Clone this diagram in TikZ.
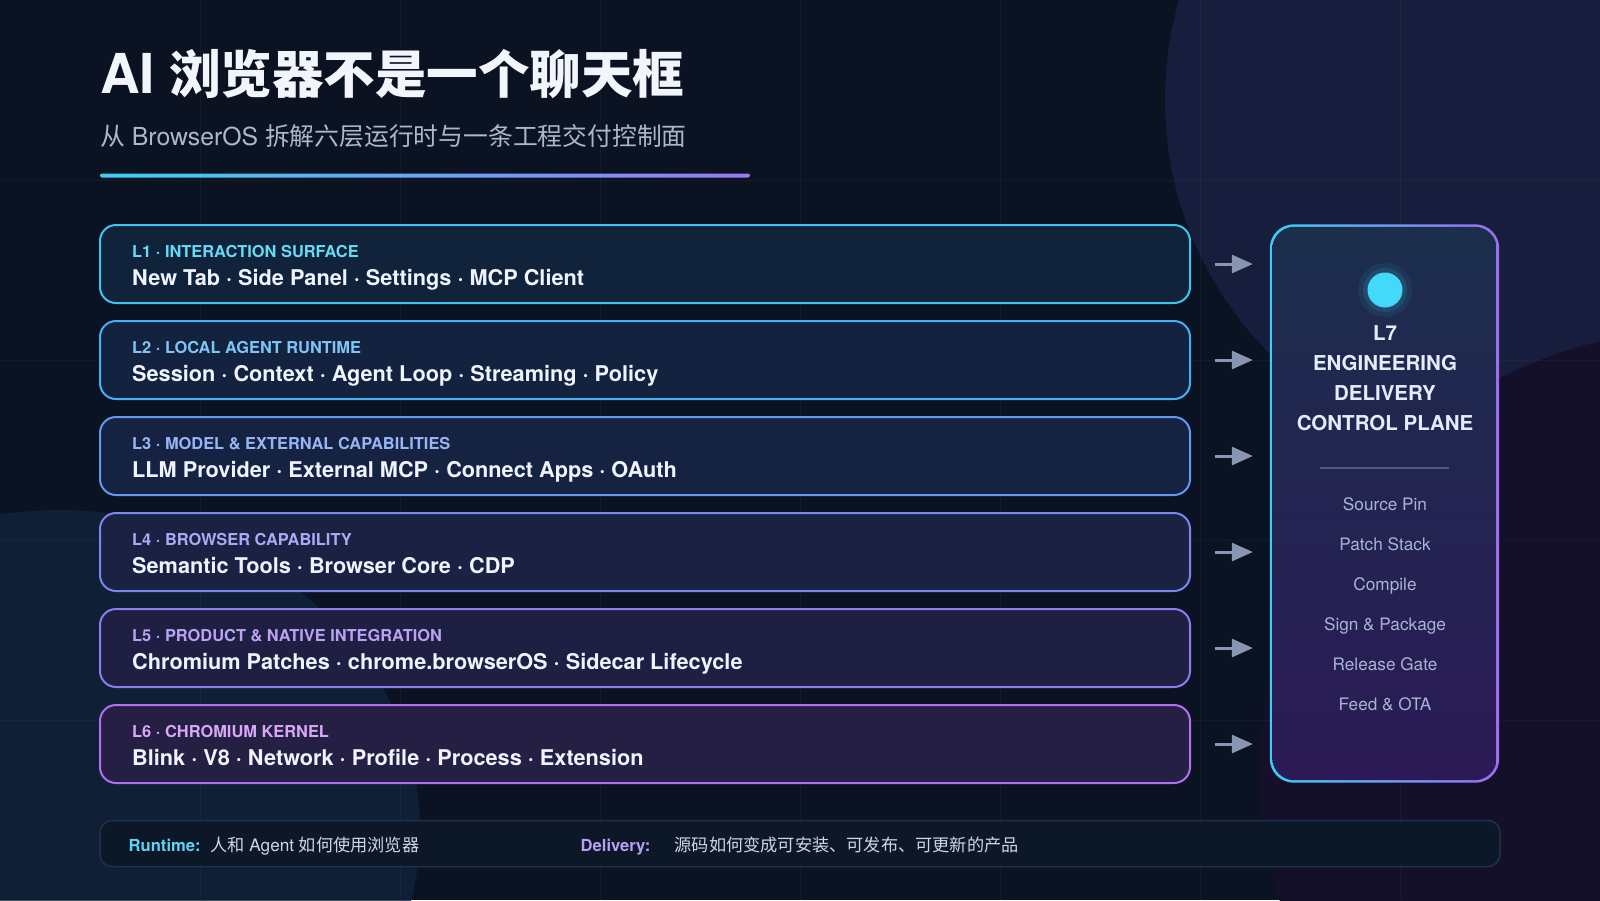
\documentclass[tikz,border=0pt]{standalone}
\usepackage{fontspec}
\setmainfont{TeX Gyre Heros}
\newfontfamily\cjk{Noto Sans CJK SC}[BoldFont={Noto Sans CJK SC Bold}]
\newfontfamily\cjkheavy{Noto Sans CJK SC Black}
\usepackage{xcolor}
\usepackage{tikz}
\usetikzlibrary{arrows.meta,calc,positioning}

% palette
\definecolor{bgbase}{HTML}{0B1222}
\definecolor{bgdisc}{HTML}{171D3D}
\definecolor{bgglow}{HTML}{10233A}
\definecolor{bgplum}{HTML}{15102A}
\definecolor{titlewhite}{HTML}{F2F6FC}
\definecolor{subgray}{HTML}{AEB7C7}
\definecolor{rulecyan}{HTML}{3AD0F2}
\definecolor{rulepurple}{HTML}{9A7AF4}
\definecolor{txtmain}{HTML}{EEF3FD}
\definecolor{arrowgray}{HTML}{8797B1}
\definecolor{l1line}{HTML}{3EC4EF}\definecolor{l1tag}{HTML}{67DAF4}\definecolor{l1fill}{HTML}{11223B}
\definecolor{l2line}{HTML}{4AAFF2}\definecolor{l2tag}{HTML}{7FC6F6}\definecolor{l2fill}{HTML}{13233F}
\definecolor{l3line}{HTML}{6198F0}\definecolor{l3tag}{HTML}{98B6F5}\definecolor{l3fill}{HTML}{162241}
\definecolor{l4line}{HTML}{7B87EE}\definecolor{l4tag}{HTML}{ABAAF4}\definecolor{l4fill}{HTML}{1A2142}
\definecolor{l5line}{HTML}{907AEE}\definecolor{l5tag}{HTML}{BBA3F4}\definecolor{l5fill}{HTML}{1E1F42}
\definecolor{l6line}{HTML}{B26FF0}\definecolor{l6tag}{HTML}{D8A8F6}\definecolor{l6fill}{HTML}{251F43}
\definecolor{panelcyan}{HTML}{3ECDF5}
\definecolor{panelpurple}{HTML}{9C6DF0}
\definecolor{paneltop}{HTML}{1B2E4C}
\definecolor{panelmid}{HTML}{212650}
\definecolor{panelbot}{HTML}{2B1A56}
\definecolor{dotcyan}{HTML}{43D9F8}
\definecolor{paneltxt}{HTML}{E4ECFB}
\definecolor{listgray}{HTML}{A8B5D2}
\definecolor{sepline}{HTML}{4A5A80}
\definecolor{barfill}{HTML}{0C1727}
\definecolor{barline}{HTML}{22304A}
\definecolor{barcyan}{HTML}{5FD3F2}
\definecolor{barpurple}{HTML}{B9A0F5}
\definecolor{bartxt}{HTML}{CFD6E2}

\begin{document}
\begin{tikzpicture}[x=1pt,y=-1pt,
    layer/.style={draw, line width=2pt, rounded corners=16pt, minimum width=1090pt, minimum height=78pt, inner sep=0pt},
    tag/.style={anchor=base west, inner sep=0pt, font=\bfseries\fontsize{16.4}{19}\selectfont},
    items/.style={anchor=base west, inner sep=0pt, text=txtmain, font=\bfseries\fontsize{21.7}{25}\selectfont},
    flow/.style={draw=arrowgray, line width=3pt, -{Triangle[length=21pt,width=18pt]}},
    stage/.style={anchor=base, inner sep=0pt, text=listgray, font=\fontsize{17.2}{20}\selectfont},
    gridline/.style={white, opacity=0.035, line width=1pt}]

    % BACKGROUND
    \fill[bgbase] (0,0) rectangle (1600,900);
    \useasboundingbox (0,0) rectangle (1600,900);
    \fill[bgdisc] (1525,100) circle (360pt);
    \fill[bgplum] (1700,770) circle (440pt);
    \fill[bgglow, opacity=0.8] (60,830) ellipse (360pt and 320pt);
    \foreach \gx in {200,400,...,1400} \draw[gridline] (\gx,0) -- (\gx,900);
    \foreach \gy in {180,360,540,720} \draw[gridline] (0,\gy) -- (1600,\gy);

    % HEADER
    \node[anchor=base west, inner sep=0pt, text=titlewhite] (title) at (100,93)
        {{\bfseries\fontsize{55}{60}\selectfont AI}\hspace{14pt}{\cjkheavy\fontsize{51.5}{60}\selectfont 浏览器不是一个聊天框}};
    \node[anchor=base west, inner sep=0pt, text=subgray, font=\fontsize{24.8}{30}\selectfont] (subtitle) at (100,145)
        {{\cjk 从} BrowserOS {\cjk 拆解六层运行时与一条工程交付控制面}};
    \shade[left color=rulecyan, right color=rulepurple, rounded corners=2pt] (100,173.5) rectangle (750,177.5);

    % LEFT: six runtime layers
    \node[layer, draw=l1line, fill=l1fill] (L1) at (645,264) {};
    \node[tag, text=l1tag] (L1tag) at ($(L1.west)+(33,-6.5)$) {L1 · INTERACTION SURFACE};
    \node[items] (L1items) at ($(L1.west)+(33,21)$) {New Tab · Side Panel · Settings · MCP Client};

    \node[layer, draw=l2line, fill=l2fill] (L2) at (645,360) {};
    \node[tag, text=l2tag] (L2tag) at ($(L2.west)+(33,-6.5)$) {L2 · LOCAL AGENT RUNTIME};
    \node[items] (L2items) at ($(L2.west)+(33,21)$) {Session · Context · Agent Loop · Streaming · Policy};

    \node[layer, draw=l3line, fill=l3fill] (L3) at (645,456) {};
    \node[tag, text=l3tag] (L3tag) at ($(L3.west)+(33,-6.5)$) {L3 · MODEL \& EXTERNAL CAPABILITIES};
    \node[items] (L3items) at ($(L3.west)+(33,21)$) {LLM Provider · External MCP · Connect Apps · OAuth};

    \node[layer, draw=l4line, fill=l4fill] (L4) at (645,552) {};
    \node[tag, text=l4tag] (L4tag) at ($(L4.west)+(33,-6.5)$) {L4 · BROWSER CAPABILITY};
    \node[items] (L4items) at ($(L4.west)+(33,21)$) {Semantic Tools · Browser Core · CDP};

    \node[layer, draw=l5line, fill=l5fill] (L5) at (645,648) {};
    \node[tag, text=l5tag] (L5tag) at ($(L5.west)+(33,-6.5)$) {L5 · PRODUCT \& NATIVE INTEGRATION};
    \node[items] (L5items) at ($(L5.west)+(33,21)$) {Chromium Patches · chrome.browserOS · Sidecar Lifecycle};

    \node[layer, draw=l6line, fill=l6fill] (L6) at (645,744) {};
    \node[tag, text=l6tag] (L6tag) at ($(L6.west)+(33,-6.5)$) {L6 · CHROMIUM KERNEL};
    \node[items] (L6items) at ($(L6.west)+(33,21)$) {Blink · V8 · Network · Profile · Process · Extension};

    % RIGHT: delivery control plane
    \node[minimum width=229pt, minimum height=558pt, inner sep=0pt] (L7) at (1384.5,503.5) {};
    \shade[left color=panelcyan, right color=panelpurple, rounded corners=24pt] (L7.north west) rectangle (L7.south east);
    \shade[top color=paneltop, middle color=panelmid, bottom color=panelbot, rounded corners=22pt]
        ($(L7.north west)+(2.5,2.5)$) rectangle ($(L7.south east)+(-2.5,-2.5)$);
    \fill[dotcyan, opacity=0.07] (1385,290) circle (27pt);
    \fill[dotcyan, opacity=0.12] (1385,290) circle (22pt);
    \node[circle, fill=dotcyan, minimum size=35pt, inner sep=0pt] (dot) at (1385,290) {};
    \node[align=center, inner sep=0pt, text=paneltxt, font=\bfseries\fontsize{20.5}{29.8}\selectfont] (L7title) at (1385,378)
        {L7\\ENGINEERING\\DELIVERY\\CONTROL PLANE};
    \draw[sepline, line width=1.5pt] (1320,468) -- (1449,468);
    \node[stage] (pin) at (1385,510) {Source Pin};
    \node[stage] (patch) at (1385,550) {Patch Stack};
    \node[stage] (compile) at (1385,590) {Compile};
    \node[stage] (sign) at (1385,630) {Sign \& Package};
    \node[stage] (gate) at (1385,670) {Release Gate};
    \node[stage] (feed) at (1385,710) {Feed \& OTA};

    % MIDDLE: arrows into the plane
    \draw[flow] ($(L1.east)+(24,0)$) -- ($(L1.east -| L7.west)+(-17,0)$);
    \draw[flow] ($(L2.east)+(24,0)$) -- ($(L2.east -| L7.west)+(-17,0)$);
    \draw[flow] ($(L3.east)+(24,0)$) -- ($(L3.east -| L7.west)+(-17,0)$);
    \draw[flow] ($(L4.east)+(24,0)$) -- ($(L4.east -| L7.west)+(-17,0)$);
    \draw[flow] ($(L5.east)+(24,0)$) -- ($(L5.east -| L7.west)+(-17,0)$);
    \draw[flow] ($(L6.east)+(24,0)$) -- ($(L6.east -| L7.west)+(-17,0)$);

    % BOTTOM: legend bar
    \node[draw=barline, fill=barfill, line width=1.5pt, rounded corners=12pt, minimum width=1400pt, minimum height=46pt] (legend) at (800,843.5) {};
    \node[anchor=base west, inner sep=0pt, text=barcyan, font=\bfseries\fontsize{16.6}{19}\selectfont] (runlbl) at (128.5,851) {Runtime:};
    \node[anchor=base west, inner sep=0pt, text=bartxt, font=\fontsize{17.2}{20}\selectfont] (runtxt) at (210,851)
        {{\cjk 人和} Agent {\cjk 如何使用浏览器}};
    \node[anchor=base west, inner sep=0pt, text=barpurple, font=\bfseries\fontsize{16.6}{19}\selectfont] (dellbl) at (580.5,851) {Delivery:};
    \node[anchor=base west, inner sep=0pt, text=bartxt, font=\cjk\fontsize{17.2}{20}\selectfont] (deltxt) at (674.5,851)
        {源码如何变成可安装、可发布、可更新的产品};
\end{tikzpicture}
\end{document}
